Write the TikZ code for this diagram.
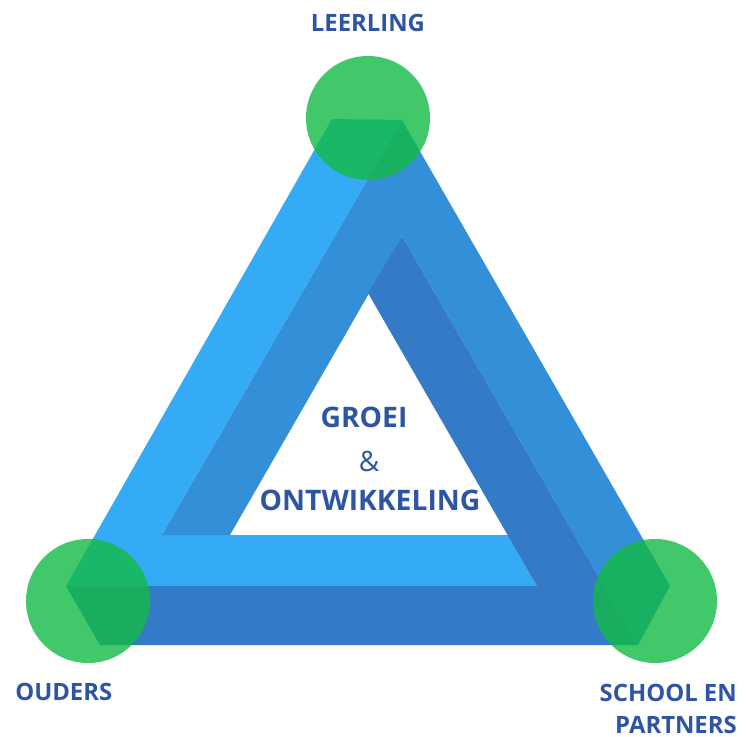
\documentclass[tikz,border=0pt]{standalone}
\usepackage{fontspec}
\setmainfont{Open Sans}
\definecolor{lightb}{HTML}{36ABF5}
\definecolor{midb}{HTML}{348FD9}
\definecolor{darkb}{HTML}{347BC7}
\definecolor{grn}{HTML}{12BA45}
\definecolor{txt}{HTML}{2E55A4}
\begin{document}
\begin{tikzpicture}[x=0.75pt,y=-0.75pt,
  face/.style={draw=none},
  corner/.style={circle,fill=grn,fill opacity=0.8,minimum size=124*0.75pt,inner sep=0pt},
  lab/.style={text=txt,font=\bfseries\fontsize{17.9}{20}\selectfont,inner sep=0pt,anchor=base},
  mid/.style={text=txt,font=\bfseries\fontsize{21.2}{24}\selectfont,inner sep=0pt,anchor=base},
  amp/.style={text=txt,font=\fontsize{21}{24}\selectfont,inner sep=0pt,anchor=base}]
\useasboundingbox (0,0) rectangle (746,736);
% Penrose triangle faces
\fill[lightb,face] (332,119) -- (402,120) -- (162,535) -- (508,535) -- (537,586) -- (66,586) -- cycle;
\fill[midb,face] (402,120) -- (670,586) -- (638,645) -- (402,236) -- (230,535) -- (162,535) -- cycle;
\fill[darkb,face] (402,236) -- (638,645) -- (100,645) -- (66,586) -- (537,586) -- (368,293) -- cycle;
% corner circles
\node[corner] (top) at (368,118) {};
\node[corner] (left) at (88,601) {};
\node[corner] (right) at (655,601) {};
% labels
\node[lab] (leerling) at (368,31) {LEERLING};
\node[lab,anchor=base west] (ouders) at (15,700) {OUDERS};
\node[lab,anchor=base east] (school) at (737,701) {SCHOOL EN};
\node[lab,anchor=base east] (partners) at (737,733) {PARTNERS};
\node[mid] (groei) at (364,427) {GROEI};
\node[amp] (en) at (369,471) {\&};
\node[mid] (ontw) at (370,510) {ONTWIKKELING};
\end{tikzpicture}
\end{document}
